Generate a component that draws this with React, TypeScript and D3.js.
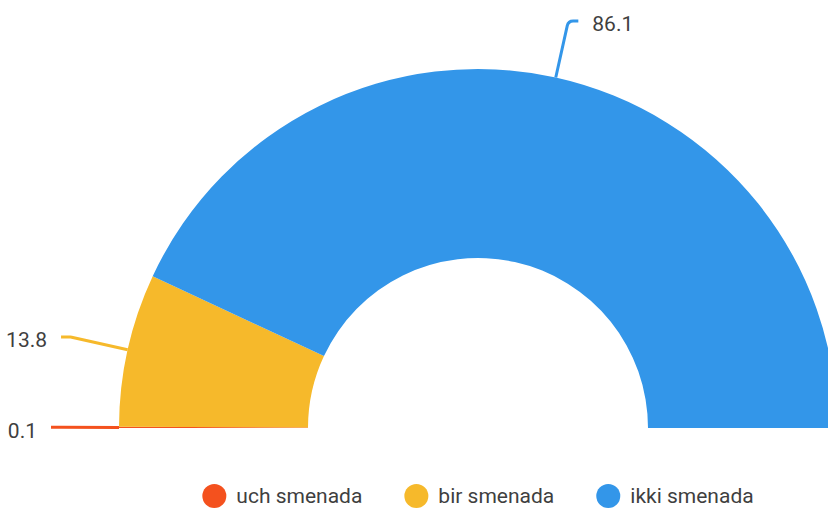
import React, { useEffect, useRef } from "react";
import * as d3 from "d3";

const categories = ["uch smenada", "bir smenada", "ikki smenada"];
const values = [0.1, 13.8, 86.1];
const colors = ["#f4511e", "#f6b92b", "#3396e9"];

const W = 828;
const H = 508;

export default function App() {
  const ref = useRef<SVGSVGElement>(null);

  useEffect(() => {
    const svg = d3.select(ref.current);
    svg.selectAll("*").remove();

    const cx = 478;
    const cy = 428;
    const outer = 359;
    const inner = 170;

    // half donut, left to right
    const pie = d3
      .pie<number>()
      .sort(null)
      .startAngle(-Math.PI / 2)
      .endAngle(Math.PI / 2);
    const arcs = pie(values);

    const arc = d3.arc<d3.PieArcDatum<number>>().innerRadius(inner).outerRadius(outer);

    const g = svg.append("g").attr("transform", `translate(${cx},${cy})`);

    g.selectAll("path.slice")
      .data(arcs)
      .join("path")
      .attr("class", "slice")
      .attr("fill", (d, i) => colors[i])
      .attr("d", arc);

    // leader lines + labels
    const ext = 58;
    const hor = 10;
    arcs.forEach((d, i) => {
      const a = (d.startAngle + d.endAngle) / 2;
      const sx = outer * Math.sin(a);
      const sy = -outer * Math.cos(a);
      const kx = (outer + ext) * Math.sin(a);
      const ky = -(outer + ext) * Math.cos(a);
      const side = Math.sin(a) >= 0 ? 1 : -1;
      const ex = kx + side * hor;

      const p = d3.path();
      p.moveTo(sx, sy);
      p.arcTo(kx, ky, ex, ky, 6);
      p.lineTo(ex, ky);

      g.append("path")
        .attr("d", p.toString())
        .attr("fill", "none")
        .attr("stroke", colors[i])
        .attr("stroke-width", 3);

      g.append("text")
        .attr("x", ex + side * 14)
        .attr("y", ky + 3)
        .attr("dy", "0.35em")
        .attr("text-anchor", side > 0 ? "start" : "end")
        .attr("font-family", "Roboto")
        .attr("font-size", 21)
        .attr("fill", "#3f3f3f")
        .text(values[i].toString());
    });

    // legend, centred under the chart
    const legend = svg.append("g").attr("transform", `translate(0,496)`);
    const items = legend
      .selectAll("g.item")
      .data(categories)
      .join("g")
      .attr("class", "item");

    items
      .append("circle")
      .attr("r", 12)
      .attr("cx", 12)
      .attr("cy", 0)
      .attr("fill", (d, i) => colors[i]);

    items
      .append("text")
      .attr("x", 34)
      .attr("dy", "0.35em")
      .attr("font-family", "Roboto")
      .attr("font-size", 21)
      .attr("fill", "#3f3f3f")
      .text((d) => d);

    let x = 0;
    items.each(function () {
      const node = this as SVGGElement;
      const w = node.getBBox().width;
      d3.select(node).attr("transform", `translate(${x},0)`);
      x += w + 42;
    });
    const total = x - 42;
    legend.attr("transform", `translate(${cx - total / 2},496)`);
  }, []);

  return (
    <svg
      ref={ref}
      width={W}
      height={H}
      style={{ position: "absolute", left: 0, top: 0, background: "#fff" }}
    />
  );
}
